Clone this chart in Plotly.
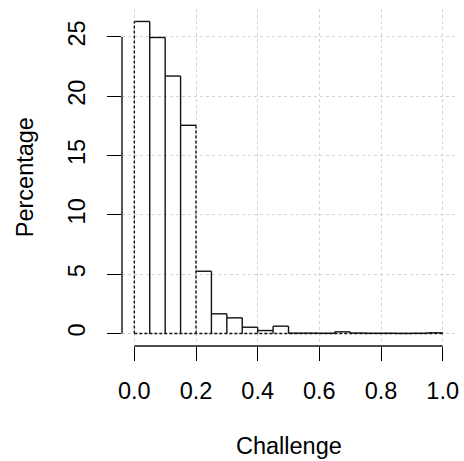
import plotly.graph_objects as go

# ---- data ----
bin_edges = [0.0, 0.05, 0.10, 0.15, 0.20, 0.25, 0.30, 0.35, 0.40, 0.45, 0.50,
             0.55, 0.60, 0.65, 0.70, 0.75, 0.80, 0.85, 0.90, 0.95, 1.0]
percentages = [26.3, 24.95, 21.7, 17.55, 5.25, 1.66, 1.32, 0.53, 0.25, 0.62,
               0.03, 0.03, 0.02, 0.14, 0.04, 0.02, 0.02, 0.01, 0.02, 0.06]
x_ticks = [0.0, 0.2, 0.4, 0.6, 0.8, 1.0]
x_tick_labels = ["0.0", "0.2", "0.4", "0.6", "0.8", "1.0"]
y_ticks = [0, 5, 10, 15, 20, 25]
y_tick_labels = ["0", "5", "10", "15", "20", "25"]
dashed_edges = [0.0, 0.2]
x_title = "Challenge"
y_title = "Percentage"

# ---- build outline segments from data ----
n = len(percentages)
sx, sy = [], []
for i in range(n):
    sx += [bin_edges[i], bin_edges[i + 1], None]
    sy += [percentages[i], percentages[i], None]
for i in range(1, n + 1):
    e = bin_edges[i]
    h = max(percentages[i - 1], percentages[i]) if i < n else percentages[i - 1]
    if any(abs(e - d) < 1e-9 for d in dashed_edges):
        continue
    sx += [e, e, None]
    sy += [0, h, None]

dx, dy = [], []
for d in dashed_edges:
    idx = min(range(len(bin_edges)), key=lambda k: abs(bin_edges[k] - d))
    hs = []
    if idx > 0:
        hs.append(percentages[idx - 1])
    if idx < n:
        hs.append(percentages[idx])
    dx += [d, d, None]
    dy += [0, max(hs), None]
dx += [bin_edges[0], bin_edges[-1], None]
dy += [0, 0, None]

fig = go.Figure()
fig.add_trace(go.Scatter(x=sx, y=sy, mode="lines", line=dict(color="#111111", width=1.4),
                         hoverinfo="skip", showlegend=False))
fig.add_trace(go.Scatter(x=dx, y=dy, mode="lines",
                         line=dict(color="#111111", width=1.4, dash="3px,2px"),
                         hoverinfo="skip", showlegend=False))

ymax = max(percentages)
xr = [x_ticks[0] - 0.04 * (x_ticks[-1] - x_ticks[0]), x_ticks[-1] + 0.04 * (x_ticks[-1] - x_ticks[0])]
yr = [0 - 0.04 * ymax, ymax + 0.04 * ymax]

font = dict(family="Liberation Sans, Arial, sans-serif", size=23.5, color="black")

fig.update_layout(
    width=464, height=461,
    margin=dict(l=121.5, r=5.5, t=9.3, b=114.5),
    plot_bgcolor="white", paper_bgcolor="white",
    font=font,
    xaxis=dict(range=xr, tickvals=x_ticks, ticktext=x_tick_labels, showline=False,
               zeroline=False, showgrid=True, gridcolor="#d3d3d3", gridwidth=1, griddash="dot",
               ticks="outside", ticklen=14, tickwidth=1, tickcolor="black",
               ticklabelstandoff=10, tickfont=font),
    yaxis=dict(range=yr, tickvals=y_ticks, ticktext=y_tick_labels, showline=False,
               zeroline=False, showgrid=True, gridcolor="#d3d3d3", gridwidth=1, griddash="dot",
               ticks="outside", ticklen=14, tickwidth=1, tickcolor="black",
               tickangle=-90, ticklabelstandoff=13, tickfont=font),
    shapes=[
        dict(type="line", xref="x", yref="paper", x0=x_ticks[0], x1=x_ticks[-1], y0=0, y1=0,
             line=dict(color="#111111", width=1.4)),
        dict(type="line", xref="paper", yref="y", x0=0, x1=0, y0=y_ticks[0], y1=y_ticks[-1],
             line=dict(color="#111111", width=1.4)),
    ],
    annotations=[
        dict(text=x_title, xref="paper", yref="paper", x=0.5, y=-0.298, xanchor="center",
             yanchor="middle", showarrow=False, font=font),
        dict(text=y_title, xref="paper", yref="paper", x=-0.292, y=0.5, xanchor="center",
             yanchor="middle", textangle=-90, showarrow=False, font=font),
    ],
)

fig.write_html(
    "out.html",
    config={"displayModeBar": False},
    post_script="document.body.style.margin='0';document.body.style.overflow='hidden';",
)
